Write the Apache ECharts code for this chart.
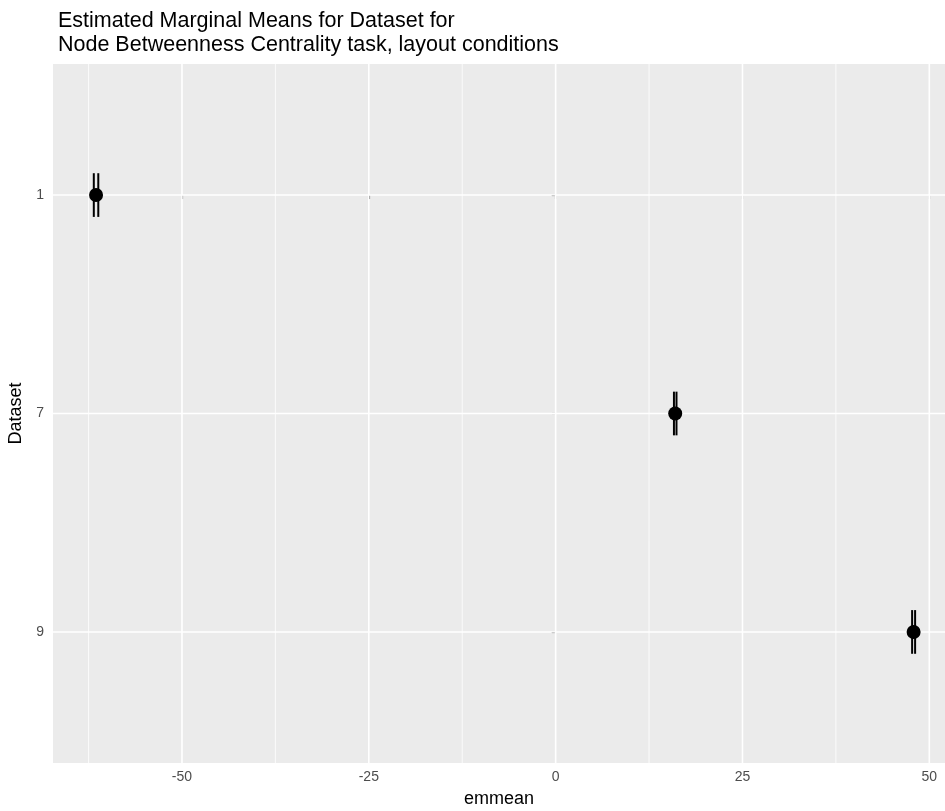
<!DOCTYPE html>
<html>
<head>
<meta charset="utf-8">
<script src="https://cdn.jsdelivr.net/npm/echarts@6/dist/echarts.min.js"></script>
<style>
html,body{margin:0;padding:0;background:#fff;}
#chart{width:945px;height:811px;}
</style>
</head>
<body>
<div id="chart"></div>
<script>
const categories = ['1', '7', '9'];
const emmean = [-61.5, 16.0, 47.9];
const lowerCL = [-61.8, 15.83, 47.7];
const upperCL = [-61.2, 16.17, 48.1];
const xMajorTicks = [-50, -25, 0, 25, 50];
const xMinorTicks = [-62.5, -37.5, -12.5, 12.5, 37.5];
const yTicks = [0, 1, 2];

const chart = echarts.init(document.getElementById('chart'), null, {renderer: 'canvas'});
const FONT = '"Liberation Sans", Arial, Helvetica, sans-serif';

function makeVLine(width) {
  return function (params, api) {
    const cs = params.coordSys;
    const x = api.coord([api.value(0), api.value(1)])[0];
    return {type: 'line', shape: {x1: x, y1: cs.y, x2: x, y2: cs.y + cs.height},
      style: {stroke: '#FFFFFF', lineWidth: width, fill: null}};
  };
}
function makeHLine(width) {
  return function (params, api) {
    const cs = params.coordSys;
    const y = api.coord([api.value(0), api.value(1)])[1];
    return {type: 'line', shape: {x1: cs.x, y1: y, x2: cs.x + cs.width, y2: y},
      style: {stroke: '#FFFFFF', lineWidth: width, fill: null}};
  };
}

const option = {
  animation: false,
  backgroundColor: '#FFFFFF',
  title: {
    text: 'Estimated Marginal Means for Dataset for\nNode Betweenness Centrality task, layout conditions',
    left: 53, top: 4,
    textStyle: {fontFamily: FONT, fontSize: 21.5, fontWeight: 'normal', color: '#000000', lineHeight: 24}
  },
  grid: {
    left: 53, right: 0, top: 64, bottom: 48,
    show: true, backgroundColor: '#EBEBEB', borderWidth: 0,
    containLabel: false, outerBoundsMode: 'none'
  },
  xAxis: {
    type: 'value', min: -67.26, max: 52.1,
    axisLine: {show: false},
    axisTick: {show: true, customValues: xMajorTicks, length: 4, lineStyle: {color: '#333333', width: 1.1}},
    axisLabel: {customValues: xMajorTicks, color: '#4D4D4D', fontSize: 14, fontFamily: FONT, margin: 7},
    splitLine: {show: false},
    name: 'emmean', nameLocation: 'middle', nameGap: 27,
    nameTextStyle: {fontFamily: FONT, fontSize: 18, color: '#000000'}
  },
  yAxis: {
    type: 'value', min: -0.6, max: 2.6, inverse: true,
    axisLine: {show: false},
    axisTick: {show: true, customValues: yTicks, length: 4, lineStyle: {color: '#333333', width: 1.1}},
    axisLabel: {customValues: yTicks, color: '#4D4D4D', fontSize: 14, fontFamily: FONT, margin: 9,
      formatter: v => categories[Math.round(v)]},
    splitLine: {show: false},
    name: 'Dataset', nameLocation: 'middle', nameGap: 19, nameRotate: 90,
    nameTextStyle: {fontFamily: FONT, fontSize: 18, color: '#000000'}
  },
  series: [
    {type: 'custom', z: 1, silent: true, renderItem: makeVLine(0.8), encode: {x: 0, y: 1},
      data: xMinorTicks.map(v => [v, 1])},
    {type: 'custom', z: 1, silent: true, renderItem: makeVLine(1.6), encode: {x: 0, y: 1},
      data: xMajorTicks.map(v => [v, 1])},
    {type: 'custom', z: 1, silent: true, renderItem: makeHLine(1.6), encode: {x: 0, y: 1},
      data: yTicks.map(v => [0, v])},
    {
      type: 'custom', z: 3, silent: true,
      encode: {x: [1, 2], y: 0},
      data: categories.map((c, i) => [i, lowerCL[i], upperCL[i]]),
      renderItem: function (params, api) {
        const y = api.value(0);
        const lo = api.coord([api.value(1), y]);
        const hi = api.coord([api.value(2), y]);
        const half = api.size([0, 0.1])[1];
        const st = {stroke: '#000000', lineWidth: 2, fill: null};
        return {type: 'group', children: [
          {type: 'line', shape: {x1: lo[0], y1: lo[1], x2: hi[0], y2: hi[1]}, style: st},
          {type: 'line', shape: {x1: lo[0], y1: lo[1] - half, x2: lo[0], y2: lo[1] + half}, style: st},
          {type: 'line', shape: {x1: hi[0], y1: hi[1] - half, x2: hi[0], y2: hi[1] + half}, style: st}
        ]};
      }
    },
    {
      type: 'scatter', z: 4, symbol: 'circle', symbolSize: 14,
      itemStyle: {color: '#000000', opacity: 1},
      data: emmean.map((v, i) => [v, i])
    }
  ]
};
chart.setOption(option);
</script>
</body>
</html>
